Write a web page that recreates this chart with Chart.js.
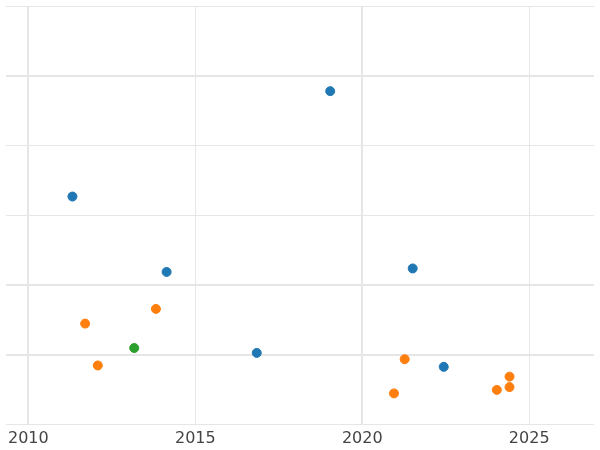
<!DOCTYPE html>
<html><head><meta charset="utf-8">
<script src="https://cdn.jsdelivr.net/npm/chart.js@4"></script>
<style>html,body{margin:0;background:#fff;overflow:hidden}#wrap{width:600px;height:450px}</style>
</head><body><div id="wrap"><canvas id="c"></canvas></div>
<script>
// scatter points per series: [year, value]
const BLUE_X = [2011.32, 2014.14, 2019.04, 2016.84, 2021.51, 2022.44];
const BLUE_Y = [2.27, 1.19, 3.78, 0.03, 1.24, -0.17];
const ORANGE_X = [2011.70, 2012.08, 2013.82, 2021.27, 2020.95, 2024.03, 2024.41, 2024.41];
const ORANGE_Y = [0.45, -0.15, 0.66, -0.06, -0.55, -0.50, -0.31, -0.46];
const GREEN_X = [2013.17];
const GREEN_Y = [0.10];
const X_TICKS = [2010, 2015, 2020, 2025];

const pts = (xs, ys) => xs.map((x, i) => ({ x, y: ys[i] }));
const ds = (xs, ys, c) => ({ data: pts(xs, ys), backgroundColor: c, borderColor: c, pointRadius: 4.5, pointHoverRadius: 5 });

new Chart(document.getElementById("c"), {
  type: "scatter",
  data: { datasets: [
    ds(BLUE_X, BLUE_Y, "#1f77b4"),
    ds(ORANGE_X, ORANGE_Y, "#ff7f0e"),
    ds(GREEN_X, GREEN_Y, "#2ca02c") ] },
  options: {
    animation: false, responsive: true, maintainAspectRatio: false,
    layout: { padding: { left: -6, right: -6, top: -6, bottom: -2 } },
    plugins: { legend: { display: false }, tooltip: { enabled: false } },
    scales: {
      x: { min: 2009.33, max: 2026.94,
        afterBuildTicks: (a) => { a.ticks = X_TICKS.map((v) => ({ value: v })); },
        border: { display: false },
        grid: { color: "#e6e6e6", lineWidth: (c) => (c.tick && c.tick.value % 10 === 0 ? 2 : 1), drawTicks: false },
        ticks: { color: "#444", font: { family: "DejaVu Sans", size: 16 }, padding: 4, maxRotation: 0,
          callback: (v) => String(v) } },
      y: { min: -1, max: 5,
        border: { display: false },
        grid: { color: "#e6e6e6", lineWidth: (c) => ([0, 1, 4].includes(c.tick && c.tick.value) ? 2 : 1), drawTicks: false },
        ticks: { display: false, stepSize: 1 } }
    }
  }
});
</script></body></html>
